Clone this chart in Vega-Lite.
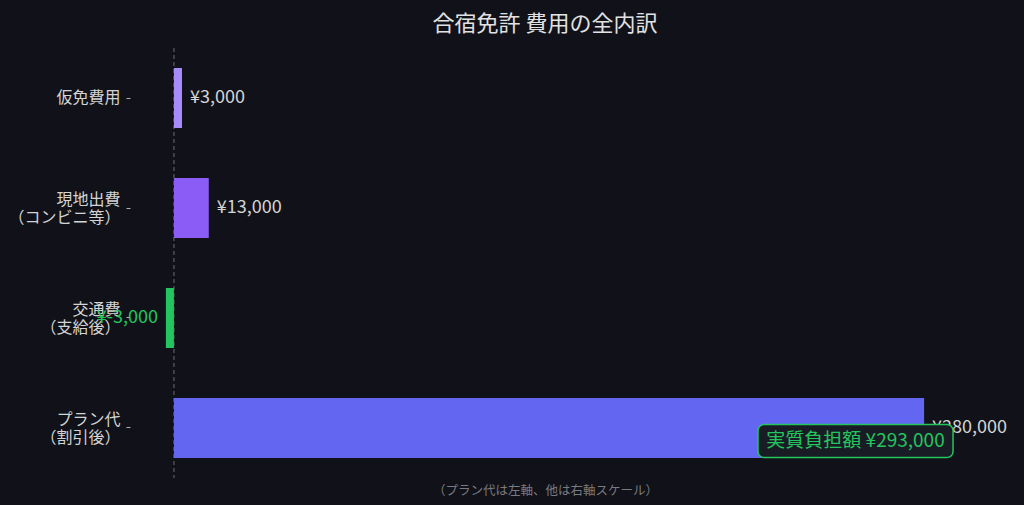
{
  "$schema": "https://vega.github.io/schema/vega-lite/v6.json",
  "width": 830,
  "height": 430,
  "autosize": "none",
  "padding": {"left": 130, "top": 48, "right": 64, "bottom": 27},
  "background": "#111219",
  "title": {
    "text": "合宿免許 費用の全内訳",
    "color": "#e2e2e2",
    "fontSize": 22,
    "fontWeight": "normal",
    "font": "Noto Sans CJK JP",
    "anchor": "middle",
    "offset": 12
  },
  "layer": [
    {
      "data": {"values": [{"v": 0}]},
      "mark": {"type": "rule", "color": "#6b6b73", "strokeDash": [4, 3], "strokeWidth": 1},
      "encoding": {"x": {"field": "v", "type": "quantitative"}}
    },
    {
      "data": {
        "values": [
          {"item": "仮免費用", "amount": 3000, "label": "¥3,000"},
          {"item": "現地出費|（コンビニ等）", "amount": 13000, "label": "¥13,000"},
          {"item": "交通費|（支給後）", "amount": -3000, "label": "¥-3,000"},
          {"item": "プラン代|（割引後）", "amount": 280000, "label": "¥280,000"}
        ]
      },
      "encoding": {
        "y": {
          "field": "item",
          "type": "nominal",
          "scale": {
            "domain": ["仮免費用", "現地出費|（コンビニ等）", "交通費|（支給後）", "プラン代|（割引後）"],
            "paddingInner": 0.4545,
            "paddingOuter": 0.182
          },
          "axis": {
            "title": null,
            "domain": false,
            "ticks": true,
            "tickSize": 4,
            "tickColor": "#b0b0b0",
            "labelColor": "#d4d4d4",
            "labelFontSize": 16,
            "labelFont": "Noto Sans CJK JP",
            "labelLineHeight": 18,
            "labelPadding": 6,
            "labelOffset": {"expr": "indexof(datum.value, '|') >= 0 ? -8 : 0"},
            "labelExpr": "split(datum.label, '|')"
          }
        },
        "x": {
          "field": "amount",
          "type": "quantitative",
          "scale": {"domain": [-16400, 293400], "nice": false, "zero": false},
          "axis": {
            "title": "（プラン代は左軸、他は右軸スケール）",
            "titleColor": "#7a7a80",
            "titleFontSize": 12.5,
            "titleFontWeight": "normal",
            "titleFont": "Noto Sans CJK JP",
            "titlePadding": 6,
            "labels": false,
            "ticks": false,
            "domain": false,
            "grid": false
          }
        }
      },
      "layer": [
        {
          "mark": {"type": "bar"},
          "encoding": {
            "x2": {"datum": 0},
            "color": {
              "field": "item",
              "type": "nominal",
              "scale": {
                "domain": ["仮免費用", "現地出費|（コンビニ等）", "交通費|（支給後）", "プラン代|（割引後）"],
                "range": ["#a78bfa", "#8b5cf6", "#22c55e", "#6366f1"]
              },
              "legend": null
            }
          }
        },
        {
          "transform": [{"filter": "datum.amount >= 0"}],
          "mark": {"type": "text", "align": "left", "baseline": "middle", "dx": 8, "fontSize": 18, "font": "Noto Sans CJK JP", "color": "#d4d4d4"},
          "encoding": {"text": {"field": "label"}}
        },
        {
          "transform": [{"filter": "datum.amount < 0"}],
          "mark": {"type": "text", "align": "right", "baseline": "middle", "dx": -8, "fontSize": 18, "font": "Noto Sans CJK JP", "color": "#22c55e"},
          "encoding": {"text": {"field": "label"}}
        }
      ]
    },
    {
      "data": {
        "values": [
          {"item": "プラン代|（割引後）", "start": 218000, "end": 290800, "mid": 254400, "note": "実質負担額  ¥293,000"}
        ]
      },
      "layer": [
        {
          "mark": {"type": "bar", "height": 33, "yOffset": 13, "fill": "#1a1c25", "stroke": "#22c55e", "strokeWidth": 1.5, "cornerRadius": 6},
          "encoding": {
            "y": {"field": "item", "type": "nominal"},
            "x": {"field": "start", "type": "quantitative"},
            "x2": {"field": "end"}
          }
        },
        {
          "mark": {"type": "text", "align": "center", "baseline": "middle", "yOffset": 13, "fontSize": 19, "font": "Noto Sans CJK JP", "color": "#22c55e"},
          "encoding": {
            "y": {"field": "item", "type": "nominal"},
            "x": {"field": "mid", "type": "quantitative"},
            "text": {"field": "note"}
          }
        }
      ]
    }
  ],
  "config": {
    "view": {"stroke": null}
  }
}
